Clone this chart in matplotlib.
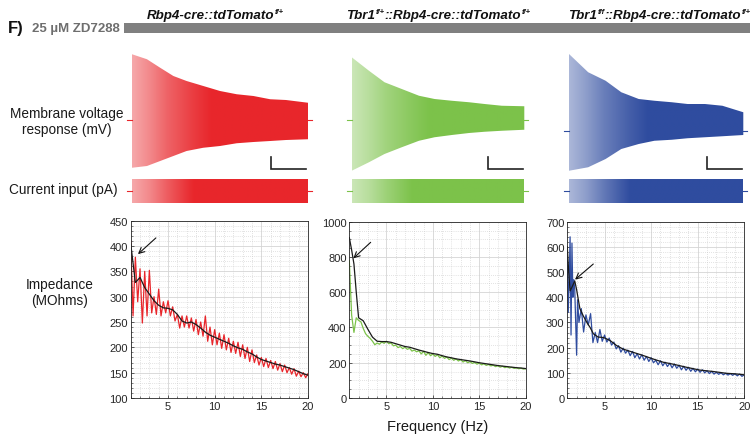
import numpy as np
import matplotlib
matplotlib.use('Agg')
import matplotlib.pyplot as plt
from matplotlib.ticker import MultipleLocator
from matplotlib.colors import to_rgb
from matplotlib.patches import Polygon

plt.rcParams['font.family'] = ['Liberation Sans', 'DejaVu Sans']

# ---- data ----
# title pieces: (text, superscript?)
titles = [[('Rbp4-cre::tdTomato', False), ('f/+', True)],
          [('Tbr1', False), ('f/+', True), ('::Rbp4-cre::tdTomato', False), ('f/+', True)],
          [('Tbr1', False), ('f/f', True), ('::Rbp4-cre::tdTomato', False), ('f/+', True)]]
colors = ['#e8262b', '#7cc24a', '#2f4c9f']

# membrane voltage envelope (mV) vs time (s)
v_t1 = [0, 1.7, 3.2, 4.7, 6.2, 8.1, 10, 11.9, 13.8, 15.7, 17.5, 20]
v_up1 = [-38.7, -40.7, -44.1, -47.4, -49.4, -51.4, -53.4, -54.7, -55.4, -56.7, -57.0, -58.1]
v_lo1 = [-84.1, -83.4, -81.4, -79.4, -77.4, -76.1, -75.4, -74.3, -73.8, -73.4, -73.0, -72.7]
v_t2 = [0, 2.0, 3.8, 5.8, 7.8, 9.6, 11.6, 13.6, 15.4, 17.4, 20]
v_up2 = [-39.9, -45.3, -49.9, -52.6, -55.3, -56.6, -57.3, -57.9, -58.6, -59.3, -59.5]
v_lo2 = [-85.3, -81.9, -78.6, -75.9, -73.3, -71.9, -71.0, -70.2, -69.7, -69.3, -68.9]
v_t3 = [0, 2.2, 4.2, 6.0, 8.0, 9.8, 11.8, 13.6, 15.6, 17.6, 20]
v_up3 = [-38.6, -45.9, -49.3, -53.9, -56.6, -57.3, -57.9, -58.6, -58.6, -59.3, -61.9]
v_lo3 = [-85.3, -83.9, -80.6, -76.6, -74.6, -73.3, -72.9, -72.3, -71.9, -71.5, -71.0]
v_rest = [-65.0, -65.0, -69.3]
current_amp = 100  # pA
chirp_dur = 20  # s
bar_t, bar_mv = 4, 5

# impedance (MOhms) vs frequency (Hz)
f_red = np.arange(1, 20.01, 0.25)
z_red = [410, 262, 378, 290, 355, 248, 350, 262, 352, 268, 300, 265,
         315, 262, 290, 268, 292, 262, 280, 252, 265, 238, 262, 240,
         262, 238, 258, 232, 255, 225, 250, 222, 262, 212, 240, 205,
         235, 205, 228, 198, 225, 195, 218, 190, 212, 188, 210, 182,
         205, 178, 200, 172, 195, 170, 185, 165, 180, 162, 178, 160,
         174, 158, 172, 155, 168, 152, 165, 150, 160, 147, 158, 143,
         153, 142, 150, 140, 148]
f_fit1 = np.arange(1, 20.01, 0.5)
z_fit1 = [405, 328, 338, 318, 305, 292, 283, 278, 277, 274, 265, 252, 248,
          250, 245, 238, 230, 224, 220, 216, 212, 208, 203, 199, 196, 191,
          187, 181, 176, 173, 170, 167, 165, 162, 159, 156, 152, 148, 145]

f_green = np.arange(1, 20.01, 0.25)
z_green = [780, 470, 372, 455, 440, 432, 395, 365, 350, 338, 322, 302,
           312, 305, 318, 310, 322, 308, 312, 296, 300, 286, 292, 280,
           288, 276, 282, 266, 272, 262, 268, 250, 265, 242, 258, 240,
           250, 236, 245, 228, 238, 225, 232, 218, 226, 214, 222, 210,
           218, 204, 212, 200, 206, 196, 202, 192, 198, 188, 194, 185,
           190, 182, 186, 178, 183, 175, 180, 172, 177, 170, 174, 168,
           171, 166, 169, 164, 166]
f_fit2 = np.concatenate([[1.0, 1.25, 1.5, 1.75, 2.0], np.arange(2.5, 20.01, 0.5)])
z_fit2 = [910, 840, 760, 600, 455, 438, 390, 345, 322, 320, 320, 316, 308,
          300, 292, 288, 280, 272, 265, 258, 252, 248, 240, 233, 228, 222,
          218, 214, 210, 205, 200, 196, 192, 188, 184, 181, 178, 175, 172,
          170, 167]

f_blue = np.concatenate([[1.0, 1.1, 1.2, 1.3, 1.4, 1.5, 1.6, 1.7, 1.8, 1.9, 2.0, 2.1, 2.25],
                         np.arange(2.5, 20.01, 0.25)])
z_blue = [560, 340, 470, 640, 250, 615, 400, 470, 430, 300, 170, 390, 300,
          355, 262, 330, 290, 335, 220, 260, 220, 272, 225, 250, 222,
          238, 210, 222, 195, 208, 182, 198, 178, 190, 168, 185, 160,
          176, 155, 172, 150, 165, 145, 160, 140, 150, 132, 148, 128,
          142, 125, 138, 120, 135, 118, 130, 112, 126, 110, 122, 106,
          118, 104, 115, 102, 112, 100, 108, 97, 106, 95, 102, 94,
          100, 92, 98, 91, 97, 90, 96, 88, 95, 86, 92]
f_fit3 = [1.0, 1.15, 1.3, 1.5, 1.8, 2.0, 2.35, 2.7, 3.1, 3.45, 3.8, 4.3, 4.9,
          5.6, 6.3, 7.0, 8.1, 9.2, 10.2, 11.3, 12.4, 13.8, 15.2, 16.7, 18.1, 19.0, 20.0]
z_fit3 = [600, 500, 425, 440, 465, 430, 355, 327, 300, 280, 255, 242, 240,
          228, 208, 194, 181, 168, 155, 142, 134, 122, 111, 105, 98, 96, 92]

arrow_head = [(1.78, 384), (1.43, 792), (1.83, 470)]
arrow_tail = [(3.7, 416), (3.3, 883), (3.79, 532)]

# ---- layout ----
W, H = 750, 439
fig = plt.figure(figsize=(7.5, 4.39), dpi=100)
renderer = fig.canvas.get_renderer()


def px_axes(left, top, right, bottom):
    return fig.add_axes([left / W, 1 - bottom / H, (right - left) / W, (bottom - top) / H])


def shade(c, f):
    return 1 - (1 - np.array(to_rgb(c))) * f


def gradient_fill(ax, x, lo, up, c, stops, fades):
    verts = list(zip(x, up)) + list(zip(x[::-1], lo[::-1]))
    patch = Polygon(verts, closed=True, facecolor='none', edgecolor='none')
    ax.add_patch(patch)
    cols = np.linspace(x[0], x[-1], 300)
    f = np.interp(cols, stops, fades)
    img = np.array([[shade(c, v) for v in f]])
    im = ax.imshow(img, extent=(x[0], x[-1], min(lo), max(up)), aspect='auto',
                   interpolation='bilinear', origin='lower')
    im.set_clip_path(patch)


def rich_title(x_px, y_px, parts):
    x = x_px / W
    for txt, sup in parts:
        if sup:
            t = fig.text(x + 0.3 / W, 1 - (y_px - 4.5) / H, txt, fontsize=5.5, fontweight='bold',
                         fontstyle='italic', va='baseline', color='#111111')
        else:
            t = fig.text(x, 1 - y_px / H, txt, fontsize=9.6, fontweight='bold',
                         fontstyle='italic', va='baseline', color='#111111')
        x += t.get_window_extent(renderer).width / W + (0.6 / W if sup else 0)


trace_x = [(132, 308), (351.7, 524.3), (569, 743.3)]
title_x = [147, 346, 568]
v_t = [v_t1, v_t2, v_t3]
v_up = [v_up1, v_up2, v_up3]
v_lo = [v_lo1, v_lo2, v_lo3]

for i in range(3):
    L, R = trace_x[i]
    pad = (R - L) / 20
    c = colors[i]
    # voltage
    ax = px_axes(L - pad, 50, R + pad, 175)
    ax.axis('off')
    gradient_fill(ax, np.array(v_t[i], float), np.array(v_lo[i]), np.array(v_up[i]), c,
                  [0, 2, 4, 7, 9, 20], [0.4, 0.55, 0.72, 0.9, 1, 1])
    ax.set_xlim(-1, chirp_dur + 1)
    ax.set_ylim(-86.6, -36.6)
    ax.plot([-0.6, 0], [v_rest[i]] * 2, color=c, lw=0.8)
    ax.plot([chirp_dur, chirp_dur + 0.4], [v_rest[i]] * 2, color=c, lw=0.8)
    # scale bar
    x0, y0 = 15.8, -84.6
    ax.plot([x0, x0, x0 + bar_t], [y0 + bar_mv, y0, y0], color='#222222', lw=1.2,
            solid_joinstyle='miter')

    # current input
    axc = px_axes(L - pad, 176, R + pad, 208)
    axc.axis('off')
    gradient_fill(axc, np.array([0.0, chirp_dur]), np.array([-current_amp] * 2),
                  np.array([current_amp] * 2), c, [0, 2, 4, 6, 7, 20],
                  [0.4, 0.55, 0.75, 0.92, 1, 1])
    axc.set_xlim(-1, chirp_dur + 1)
    axc.set_ylim(-130, 130)
    axc.plot([-0.6, 0], [0, 0], color=c, lw=0.8)
    axc.plot([chirp_dur, chirp_dur + 0.4], [0, 0], color=c, lw=0.8)

    rich_title(title_x[i], 19, titles[i])

# impedance panels
imp_pos = [(130.7, 221.7, 308, 399), (349.3, 222.7, 525.7, 399), (567.3, 222.7, 744.3, 399)]
ylims = [(100, 450), (0, 1000), (0, 700)]
ymaj = [50, 200, 100]
ymin = [10, 50, 20]
raw = [(f_red, z_red), (f_green, z_green), (f_blue, z_blue)]
fits = [(f_fit1, z_fit1), (f_fit2, z_fit2), (f_fit3, z_fit3)]

for i in range(3):
    ax = px_axes(*imp_pos[i])
    ax.plot(raw[i][0], raw[i][1], color=colors[i], lw=0.9)
    ax.plot(fits[i][0], fits[i][1], color='#1a1a1a', lw=0.9)
    ax.set_xlim(1, 20)
    ax.set_ylim(*ylims[i])
    ax.set_xticks([5, 10, 15, 20])
    ax.xaxis.set_minor_locator(MultipleLocator(1))
    ax.yaxis.set_major_locator(MultipleLocator(ymaj[i]))
    ax.yaxis.set_minor_locator(MultipleLocator(ymin[i]))
    ax.grid(which='major', color='#d4d4d4', lw=0.6)
    ax.grid(which='minor', color='#c8c8c8', lw=0.5, ls=(0, (1, 2)))
    ax.set_axisbelow(True)
    ax.tick_params(which='both', direction='in', labelsize=8, colors='#262626', pad=2)
    ax.tick_params(which='major', length=2.5, width=0.5)
    ax.tick_params(which='minor', length=1.2, width=0.4)
    for s in ax.spines.values():
        s.set_color('#262626')
        s.set_linewidth(0.6)
    ax.annotate('', xy=arrow_head[i], xytext=arrow_tail[i],
                arrowprops=dict(arrowstyle='->', color='#111111', lw=0.8, shrinkA=0, shrinkB=0))
    if i == 1:
        ax.set_xlabel('Frequency (Hz)', fontsize=10.5, color='#1a1a1a', labelpad=6)

# header and row labels
fig.add_artist(plt.Rectangle((124 / W, 1 - 33.5 / H), (W - 124) / W, 10 / H,
                             transform=fig.transFigure, color='#808080', lw=0))
fig.text(8 / W, 1 - 29 / H, 'F)', fontsize=12, fontweight='bold', va='center', color='#111111')
fig.text(32 / W, 1 - 29 / H, '25 µM ZD7288', fontsize=9.5, fontweight='bold', va='center',
         color='#6e6e6e')
fig.text(67 / W, 1 - 122 / H, 'Membrane voltage\nresponse (mV)', fontsize=9.8,
         ha='center', va='center', color='#1a1a1a', linespacing=1.2)
fig.text(63 / W, 1 - 190 / H, 'Current input (pA)', fontsize=9.8, ha='center',
         va='center', color='#1a1a1a')
fig.text(60 / W, 1 - 293 / H, 'Impedance\n(MOhms)', fontsize=9.8, ha='center',
         va='center', color='#1a1a1a', linespacing=1.2)

fig.savefig('out.png', dpi=100)
